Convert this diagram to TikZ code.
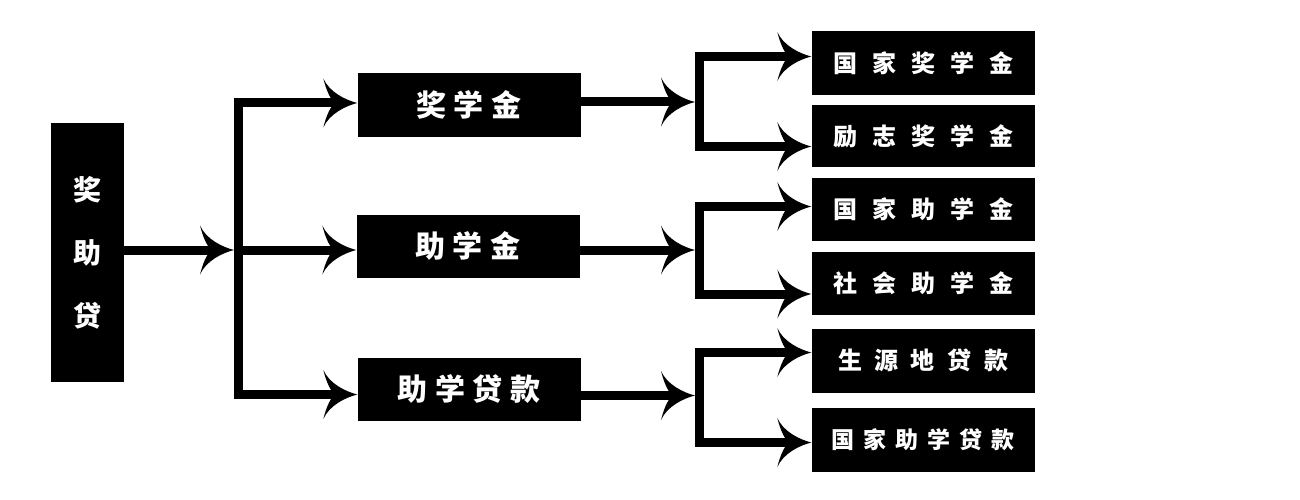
\documentclass[tikz,border=0pt]{standalone}
\usepackage{fontspec}
\newfontfamily\cjk{Noto Sans CJK SC}
\usetikzlibrary{calc}
\pgfdeclarearrow{
  name=Swept,
  setup code={
    \pgfarrowssettipend{0pt}
    \pgfarrowssetlineend{-20pt}
    \pgfarrowssetbackend{-34pt}
    \pgfarrowsupperhullpoint{-34pt}{24.5pt}
    \pgfarrowsupperhullpoint{0pt}{0pt}
  },
  drawing code={
    \pgfpathmoveto{\pgfqpoint{0pt}{0pt}}
    \pgfpathcurveto{\pgfqpoint{-12pt}{3pt}}{\pgfqpoint{-28pt}{11pt}}{\pgfqpoint{-34pt}{24.5pt}}
    \pgfpathcurveto{\pgfqpoint{-31pt}{13pt}}{\pgfqpoint{-28pt}{6pt}}{\pgfqpoint{-23pt}{0pt}}
    \pgfpathcurveto{\pgfqpoint{-28pt}{-6pt}}{\pgfqpoint{-31pt}{-13pt}}{\pgfqpoint{-34pt}{-24.5pt}}
    \pgfpathcurveto{\pgfqpoint{-28pt}{-11pt}}{\pgfqpoint{-12pt}{-3pt}}{\pgfqpoint{0pt}{0pt}}
    \pgfpathclose
    \pgfusepathqfill
  }
}
\begin{document}
\begin{tikzpicture}[x=1pt,y=-1pt,
  box/.style={fill=black, text=white, inner sep=0pt, minimum width=223pt, minimum height=63pt},
  rootbox/.style={box, minimum width=73pt, minimum height=259pt, align=center, font=\cjk\bfseries\fontsize{28}{63}\selectfont},
  lone/.style={box, font=\cjk\bfseries\fontsize{30}{36}\selectfont},
  ltwo/.style={box, font=\cjk\bfseries\fontsize{24}{30}\selectfont},
  conn/.style={line width=9pt, line join=miter, -Swept}]
\fill[white] (0,0) rectangle (1300,500);
\useasboundingbox (0,0) rectangle (1300,500);
% nodes
\node[rootbox] (root) at (87,252.5) {奖\\助\\贷};
\node[lone, minimum height=64pt] (l1a) at (469,105) {奖\hspace{8pt}学\hspace{8pt}金};
\node[lone] (l1b) at (468,246) {助\hspace{8pt}学\hspace{8pt}金};
\node[lone] (l1c) at (469,389.5) {助\hspace{7.5pt}学\hspace{7.5pt}贷\hspace{7.5pt}款};
\node[ltwo, minimum height=64pt] (l2a) at (923,63) {国\hspace{15pt}家\hspace{15pt}奖\hspace{15pt}学\hspace{15pt}金};
\node[ltwo, minimum height=62pt] (l2b) at (923,136) {励\hspace{15pt}志\hspace{15pt}奖\hspace{15pt}学\hspace{15pt}金};
\node[ltwo] (l2c) at (923,209.5) {国\hspace{15pt}家\hspace{15pt}助\hspace{15pt}学\hspace{15pt}金};
\node[ltwo] (l2d) at (923,283.5) {社\hspace{15pt}会\hspace{15pt}助\hspace{15pt}学\hspace{15pt}金};
\node[ltwo, minimum height=64pt] (l2e) at (923,360.5) {生\hspace{12.5pt}源\hspace{12.5pt}地\hspace{12.5pt}贷\hspace{12.5pt}款};
\node[ltwo, minimum height=64pt, font=\cjk\bfseries\fontsize{23}{30}\selectfont] (l2f) at (923,440) {国\hspace{9pt}家\hspace{9pt}助\hspace{9pt}学\hspace{9pt}贷\hspace{9pt}款};
% junctions
\coordinate (j1) at (238.5,250);
\coordinate (j2) at (699,102);
\coordinate (j3) at (699,250);
\coordinate (j4) at (699,395.5);
% level 0 -> 1
\draw[conn] (root.east |- j1) -- ([xshift=-4.5pt]j1);
\draw[conn] (j1) |- (l1a.west |- 0,103);
\draw[conn] (j1) -- (l1b.west |- j1);
\draw[conn] (j1) |- (l1c.west |- 0,394.5);
% level 1 -> 2
\draw[conn] (l1a.east |- j2) -- ([xshift=-4pt]j2);
\draw[conn] (j2) |- (l2a.west |- 0,56.5);
\draw[conn] (j2) |- (l2b.west |- 0,146.5);
\draw[conn] (l1b.east |- j3) -- ([xshift=-4pt]j3);
\draw[conn] (j3) |- (l2c.west |- 0,206.5);
\draw[conn] (j3) |- (l2d.west |- 0,294);
\draw[conn] (l1c.east |- j4) -- ([xshift=-4pt]j4);
\draw[conn] (j4) |- (l2e.west |- 0,352.5);
\draw[conn] (j4) |- (l2f.west |- 0,442.5);
\end{tikzpicture}
\end{document}
